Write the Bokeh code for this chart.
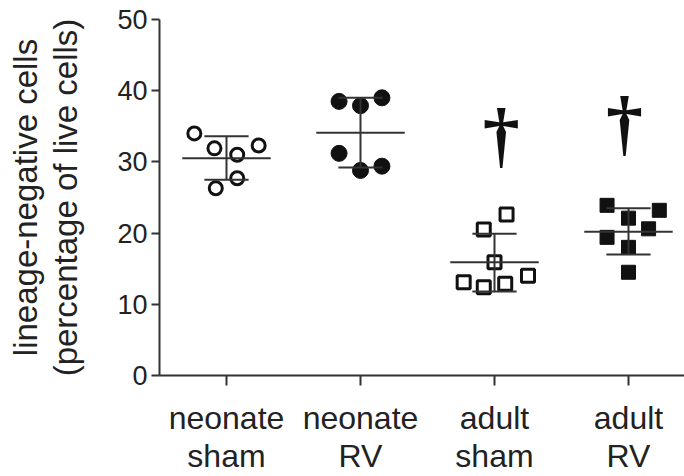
from bokeh.plotting import figure
from bokeh.models import Range1d, FixedTicker, ColumnDataSource
from bokeh.core.properties import value
from bokeh.embed import file_html
from bokeh.resources import INLINE

# ---- data ----
groups = ["neonate\nsham", "neonate\nRV", "adult\nsham", "adult\nRV"]
group_x = [0.5, 1.5, 2.5, 3.5]

neo_sham_y = [34.0, 31.9, 31.0, 32.3, 27.7, 26.3]
neo_sham_dx = [-0.24, -0.09, 0.08, 0.24, 0.08, -0.08]
neo_rv_y = [38.5, 37.9, 39.0, 31.2, 28.8, 29.4]
neo_rv_dx = [-0.16, 0.0, 0.16, -0.16, 0.0, 0.16]
adult_sham_y = [22.6, 20.5, 15.9, 13.1, 12.4, 12.9, 14.0]
adult_sham_dx = [0.09, -0.08, 0.0, -0.23, -0.08, 0.08, 0.25]
adult_rv_y = [23.9, 23.2, 22.1, 20.6, 19.4, 18.0, 14.5]
adult_rv_dx = [-0.16, 0.23, 0.0, 0.15, -0.16, 0.0, 0.0]

means = [30.5, 34.1, 15.9, 20.2]
sd_upper = [33.6, 39.0, 19.9, 23.5]
sd_lower = [27.5, 29.2, 11.8, 17.0]

dagger_x = [2.55, 3.47]
dagger_y = [33.8, 35.5]

y_ticks = [0, 10, 20, 30, 40, 50]

FONT = "Liberation Sans"
INK = "#111111"
LINE = "#333333"

p = figure(width=684, height=476, output_backend="svg", toolbar_location=None,
           x_range=Range1d(0, 3.918), y_range=Range1d(0, 50),
           min_border_left=159, min_border_top=19, min_border_bottom=101,
           min_border_right=0)
p.frame_width = 525
p.frame_height = 356
p.outline_line_color = None
p.grid.visible = False
p.background_fill_color = "white"
p.border_fill_color = "white"

# axes
p.xaxis.ticker = FixedTicker(ticks=group_x)
p.xaxis.major_label_overrides = {gx: g for gx, g in zip(group_x, groups)}
p.yaxis.ticker = FixedTicker(ticks=y_ticks)
for ax in (p.xaxis, p.yaxis):
    ax.axis_line_color = LINE
    ax.axis_line_width = 2
    ax.major_tick_line_color = LINE
    ax.major_tick_line_width = 2
    ax.major_tick_in = 0
    ax.minor_tick_line_color = None
    ax.major_label_text_font = FONT
    ax.major_label_text_color = "#222222"
p.xaxis.major_tick_out = 10
p.yaxis.major_tick_out = 8
p.xaxis.major_label_text_font_size = "32px"
p.xaxis.major_label_text_line_height = 1.08
p.xaxis.major_label_standoff = 14
p.yaxis.major_label_text_font_size = "27px"
p.yaxis.major_label_standoff = 4
p.yaxis.axis_label = "lineage-negative cells\n(percentage of live cells)"
p.yaxis.axis_label_text_font = FONT
p.yaxis.axis_label_text_font_size = "33px"
p.yaxis.axis_label_text_font_style = "normal"
p.yaxis.axis_label_text_color = "#222222"
p.yaxis.axis_label_text_line_height = 1.1
p.yaxis.axis_label_standoff = 30

# points
def xs(cx, dxs):
    return [cx + d for d in dxs]

p.scatter(xs(group_x[0], neo_sham_dx), neo_sham_y, marker="circle", size=13,
          fill_color=None, line_color=INK, line_width=3)
p.scatter(xs(group_x[1], neo_rv_dx), neo_rv_y, marker="circle", size=16,
          fill_color=INK, line_color=INK, line_width=1)
p.scatter(xs(group_x[2], adult_sham_dx), adult_sham_y, marker="square", size=13,
          fill_color=None, line_color=INK, line_width=3)
p.scatter(xs(group_x[3], adult_rv_dx), adult_rv_y, marker="square", size=14,
          fill_color=INK, line_color=INK, line_width=1)

# mean +/- SD
src = ColumnDataSource(dict(
    x=group_x, m=means, hi=sd_upper, lo=sd_lower,
    mx0=[x - 0.33 for x in group_x], mx1=[x + 0.33 for x in group_x],
    cx0=[x - 0.165 for x in group_x], cx1=[x + 0.165 for x in group_x],
))
p.segment(x0="mx0", x1="mx1", y0="m", y1="m", source=src, line_color=LINE, line_width=2)
p.segment(x0="x", x1="x", y0="lo", y1="hi", source=src, line_color=LINE, line_width=2)
p.segment(x0="cx0", x1="cx1", y0="hi", y1="hi", source=src, line_color=LINE, line_width=2)
p.segment(x0="cx0", x1="cx1", y0="lo", y1="lo", source=src, line_color=LINE, line_width=2)

# significance daggers
p.text(x=dagger_x, y=dagger_y, text=["\u2020", "\u2020"], text_align="center",
       text_baseline="middle", text_font=value("Liberation Serif"),
       text_font_size="74px", text_color=INK, text_font_style="bold")

open("out.html", "w").write(file_html(p, INLINE))
